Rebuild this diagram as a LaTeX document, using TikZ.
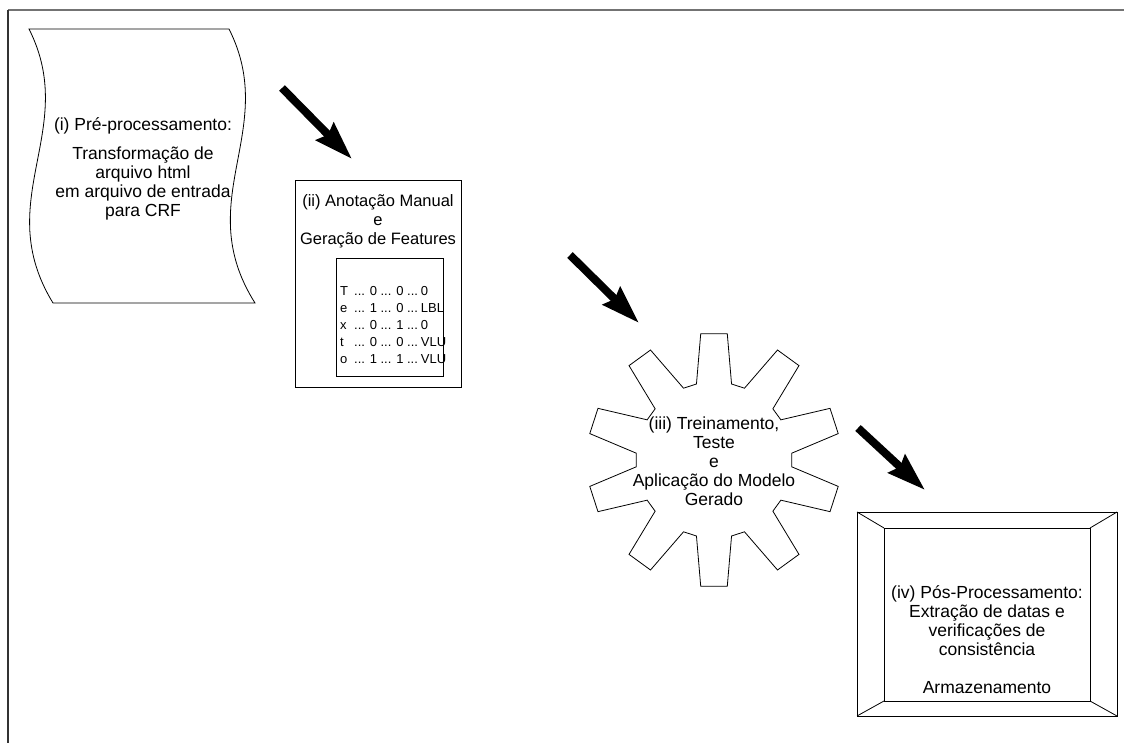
\documentclass[tikz,border=0pt]{standalone}
\usepackage{fontspec}
\setmainfont{Liberation Sans}
\usetikzlibrary{arrows.meta}
\begin{document}
\begin{tikzpicture}[x=1pt,y=-1pt,
  shapeline/.style={draw=black,line width=0.8pt},
  lbl/.style={align=center,inner sep=0pt,font=\fontsize{17.5}{19}\selectfont},
  bigarrow/.style={line width=8pt,-{Stealth[length=38pt,width=24pt,inset=4pt]}}]
\useasboundingbox (0,0) rectangle (1124,743);
% frame
\draw[line width=1.6pt,draw=black!55] (8,10) -- (1124,10);
\draw[line width=1.6pt,draw=black!80] (8,10) -- (8,743);
% (i) wave shape
\draw[shapeline] (29,29) -- (229,29) .. controls (280,130) and (190,200) .. (255,303)
  -- (53,303) .. controls (-10,200) and (80,130) .. (29,29) -- cycle;
\node[lbl] (pre) at (143,169) {(i) Pré-processamento:\\[10pt]Transformação de\\arquivo html\\em arquivo de entrada\\para CRF};
% (ii) box
\draw[shapeline] (295,180) rectangle (461,387);
\node[lbl,font=\fontsize{16.5}{19}\selectfont] (ann) at (378,221) {(ii) Anotação Manual\\e\\Geração de Features};
\draw[shapeline] (336,258) rectangle (443,376);
\node[inner sep=0pt,font=\fontsize{13}{17}\selectfont,anchor=west] (tab) at (340,326)
  {\begin{tabular}{@{}l@{\hspace{6pt}}l@{\hspace{3pt}}l@{}}
   T & ... 0 ... 0 ... & 0\\
   e & ... 1 ... 0 ... & LBL\\
   x & ... 0 ... 1 ... & 0\\
   t & ... 0 ... 0 ... & VLU\\
   o & ... 1 ... 1 ... & VLU
   \end{tabular}};
% (iii) gear
\draw[shapeline,shift={(714,460)}] (5:78)
  \foreach \a in {18,54,...,342} { -- (\a-13:78) -- (\a-6:127) -- (\a+6:127) -- (\a+13:78) } -- cycle;
\node[lbl] (gear) at (714,461) {(iii) Treinamento,\\Teste\\e\\Aplicação do Modelo\\Gerado};
% (iv) bevel box
\draw[shapeline] (857,512) rectangle (1117,716);
\draw[shapeline] (884,528) rectangle (1090,701);
\draw[shapeline] (857,512) -- (884,528) (1117,512) -- (1090,528)
  (857,716) -- (884,701) (1117,716) -- (1090,701);
\node[lbl] (post) at (987,640) {(iv) Pós-Processamento:\\Extração de datas e\\verificações de\\consistência\\[19pt]Armazenamento};
% arrows
\coordinate (a1s) at (282,88); \coordinate (a1e) at (352,159);
\coordinate (a2s) at (570,255); \coordinate (a2e) at (639,323);
\coordinate (a3s) at (858,428); \coordinate (a3e) at (925,490);
\draw[bigarrow] (a1s) -- (a1e);
\draw[bigarrow] (a2s) -- (a2e);
\draw[bigarrow] (a3s) -- (a3e);
\end{tikzpicture}
\end{document}
